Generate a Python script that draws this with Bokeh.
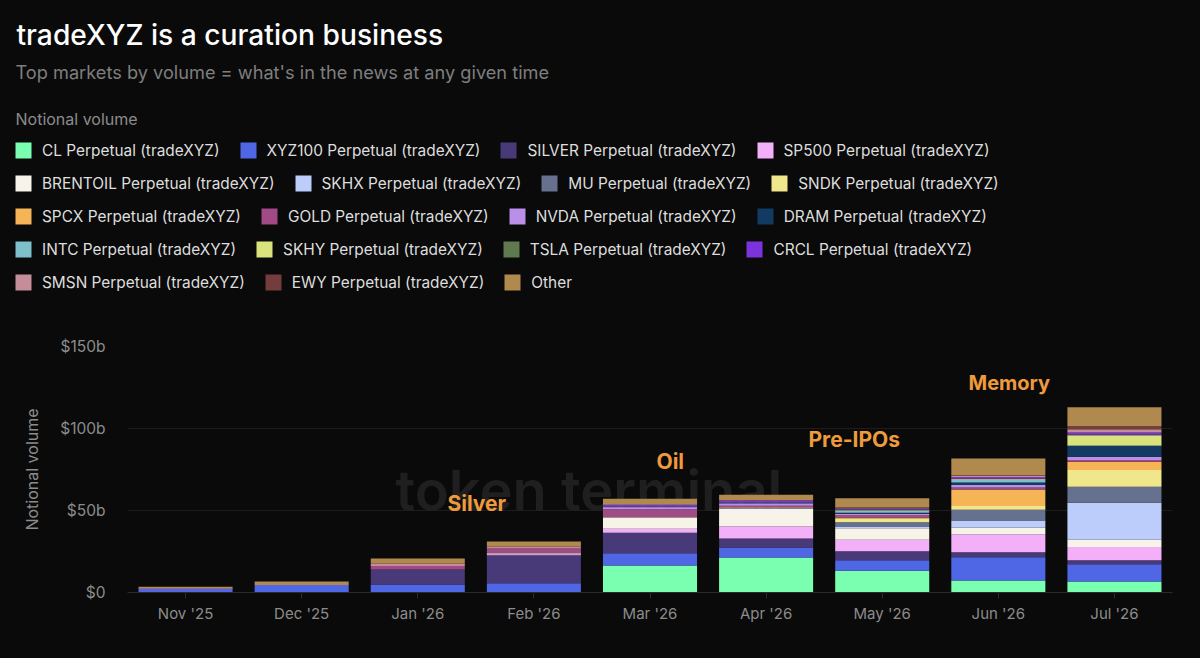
from bokeh.plotting import figure
from bokeh.models import (ColumnDataSource, FactorRange, Range1d, FixedTicker, Label, Legend, LegendItem)
from bokeh.core.properties import value
from bokeh.embed import file_html
from bokeh.resources import INLINE

TITLE = "tradeXYZ is a curation business"
SUBTITLE = "Top markets by volume = what's in the news at any given time"
LEGEND_TITLE = "Notional volume"
months = ["Nov '25", "Dec '25", "Jan '26", "Feb '26", "Mar '26", "Apr '26", "May '26", "Jun '26", "Jul '26"]

CL       = [0, 0, 0, 0, 16.5, 21.3, 13.2, 7.3, 6.7]
XYZ100   = [2.2, 4.5, 4.9, 5.7, 7.5, 6.1, 6.5, 14.2, 10.6]
SILVER   = [0.1, 0, 9.1, 17.0, 12.4, 5.5, 5.5, 3.0, 2.4]
SP500    = [0, 0, 0, 0.6, 2.5, 7.5, 6.9, 11.0, 8.1]
BRENTOIL = [0, 0, 0, 0.6, 6.8, 10.6, 7.1, 4.1, 4.3]
SKHX     = [0, 0, 0, 0, 0.1, 0.3, 0.8, 4.3, 22.6]
MU       = [0, 0, 0, 0, 0.1, 0.3, 2.8, 6.5, 9.8]
SNDK     = [0, 0, 0, 0, 0.1, 0.2, 2.4, 2.4, 10.2]
SPCX     = [0, 0, 0, 0, 0.1, 0.2, 0.6, 10.0, 5.1]
GOLD     = [0, 0, 2.2, 3.0, 4.7, 0.9, 1.4, 1.2, 1.0]
NVDA     = [0, 0, 0, 0, 1.2, 1.4, 0.8, 1.6, 2.0]
DRAM     = [0, 0, 0, 0, 0.05, 0.1, 0.6, 1.4, 6.5]
INTC     = [0, 0, 0, 0, 0.05, 0.1, 1.2, 1.8, 0.3]
SKHY     = [0, 0, 0, 0, 0.05, 0.1, 0.4, 0.4, 6.3]
TSLA     = [0, 0, 0, 0, 0.2, 0.2, 0.2, 0.2, 0.3]
CRCL     = [0, 0, 0, 0, 1.0, 1.2, 0.6, 1.0, 1.4]
SMSN     = [0.5, 0, 1.4, 1.1, 0.1, 0.2, 0.4, 0.6, 2.0]
EWY      = [0, 0, 0, 0, 0.1, 0.2, 0.4, 0.3, 1.8]
Other    = [0.7, 2.2, 3.2, 3.1, 3.6, 3.2, 5.7, 10.4, 11.6]

names = ["CL Perpetual (tradeXYZ)", "XYZ100 Perpetual (tradeXYZ)", "SILVER Perpetual (tradeXYZ)",
         "SP500 Perpetual (tradeXYZ)", "BRENTOIL Perpetual (tradeXYZ)", "SKHX Perpetual (tradeXYZ)",
         "MU Perpetual (tradeXYZ)", "SNDK Perpetual (tradeXYZ)", "SPCX Perpetual (tradeXYZ)",
         "GOLD Perpetual (tradeXYZ)", "NVDA Perpetual (tradeXYZ)", "DRAM Perpetual (tradeXYZ)",
         "INTC Perpetual (tradeXYZ)", "SKHY Perpetual (tradeXYZ)", "TSLA Perpetual (tradeXYZ)",
         "CRCL Perpetual (tradeXYZ)", "SMSN Perpetual (tradeXYZ)", "EWY Perpetual (tradeXYZ)", "Other"]
series = [CL, XYZ100, SILVER, SP500, BRENTOIL, SKHX, MU, SNDK, SPCX, GOLD, NVDA, DRAM, INTC, SKHY, TSLA, CRCL, SMSN, EWY, Other]
colors = ["#7AFFB0", "#4F67E5", "#483A78", "#F3B0F8", "#F7F3E8", "#BDCDFB", "#65718F", "#F0E68C", "#F5B556",
          "#A14A85", "#B98FE8", "#123A62", "#7DBFCB", "#DAE27C", "#5F7A4E", "#7B34DB", "#C58D9A", "#743C3C", "#B0894F"]
y_ticks = [0, 50, 100, 150]
y_labels = ["$0", "$50b", "$100b", "$150b"]

BG = "#0A0A0A"
FONT = "Inter"
W, H = 1200, 658
HEAD_H = 326
FL, FR, FT, FB = 127, 1172, 346, 592

head = figure(width=W, height=HEAD_H, output_backend="svg", toolbar_location=None,
              x_range=Range1d(0, W), y_range=Range1d(HEAD_H, 0),
              background_fill_color=BG, border_fill_color=BG, outline_line_color=None,
              min_border=0, x_axis_location=None, y_axis_location=None)
head.xgrid.visible = False
head.ygrid.visible = False

p = figure(width=W, height=H - HEAD_H, output_backend="svg", toolbar_location=None,
           x_range=FactorRange(factors=months, range_padding=0, factor_padding=0),
           y_range=Range1d(0, 150), background_fill_color=BG, border_fill_color=BG,
           outline_line_color=None,
           min_border_left=FL, min_border_right=W - FR,
           min_border_top=FT - HEAD_H, min_border_bottom=H - FB)

src = ColumnDataSource({"month": months, **{n: s for n, s in zip(names, series)}})
rs = p.vbar_stack(names, x="month", width=0.81, color=colors, line_color=None, source=src)


def htxt(s, x, y, size, color, font=FONT):
    head.add_layout(Label(x=x, y=HEAD_H - y, x_units="screen", y_units="screen", text=s,
                          text_font=font, text_font_size=f"{size}px", text_color=color,
                          text_baseline="middle", text_align="left"))


def ptxt(s, x, y, size, color, style="normal", baseline="middle", level="annotation", font=FONT):
    p.add_layout(Label(x=x - FL, y=FB - y, x_units="screen", y_units="screen", text=s,
                       text_font=font, text_font_size=f"{size}px", text_color=color,
                       text_font_style=style, text_baseline=baseline, text_align="left", level=level))


p.xgrid.visible = False
p.ygrid.ticker = FixedTicker(ticks=y_ticks)
p.ygrid.grid_line_color = "#1D1D1D"
p.ygrid.level = "underlay"

xa = p.xaxis[0]
xa.axis_line_color = "#2B2B2B"
xa.major_tick_line_color = "#2B2B2B"
xa.major_tick_out = 6
xa.major_tick_in = 0
xa.minor_tick_line_color = None
xa.major_label_text_color = "#8C8C8C"
xa.major_label_text_font = FONT
xa.major_label_text_font_size = "15px"
xa.major_label_standoff = 5

ya = p.yaxis[0]
ya.ticker = FixedTicker(ticks=y_ticks)
ya.major_label_overrides = {t: l for t, l in zip(y_ticks, y_labels)}
ya.axis_line_color = None
ya.major_tick_line_color = None
ya.minor_tick_line_color = None
ya.major_label_text_color = "#8C8C8C"
ya.major_label_text_font = FONT
ya.major_label_text_font_size = "15.5px"
ya.major_label_standoff = 16
ya.axis_label = LEGEND_TITLE
ya.axis_label_text_color = "#8C8C8C"
ya.axis_label_text_font = FONT
ya.axis_label_text_font_size = "16px"
ya.axis_label_text_font_style = "normal"
ya.axis_label_standoff = 15

ptxt("token terminal_", 395, 490, 56, "#1F1F1F", baseline="alphabetic", level="underlay", font="Inter SemiBold")
for s, x, y, size in [("Silver", 447, 503, 21), ("Oil", 656, 461, 21), ("Pre-IPOs", 808, 439, 21), ("Memory", 968, 382, 20)]:
    ptxt(s, x, y, size, "#EF9A3C", style="bold")

htxt(TITLE, 16, 34, 28.2, "#FFFFFF", font="Inter Medium")
htxt(SUBTITLE, 15, 71, 18.2, "#7E7E7E")
htxt(LEGEND_TITLE, 15, 118, 16, "#8C8C8C")

# legend swatch holders, outside the visible range of the header
PROXY_X = [-100]
PROXY_TOP = [0]
rows = [(0, 4, 148), (4, 8, 181), (8, 12, 214), (12, 16, 247), (16, 19, 280)]
for a, b, yc in rows:
    items = []
    for i in range(a, b):
        proxy = head.vbar(x=PROXY_X, top=PROXY_TOP, bottom=PROXY_TOP, width=1, fill_color=colors[i], line_color=None)
        items.append(LegendItem(label=value(names[i]), renderers=[proxy]))
    leg = Legend(items=items, orientation="horizontal", location=(13, HEAD_H - yc - 12),
                 margin=0, padding=0, spacing=18, glyph_width=20, glyph_height=20, label_standoff=9,
                 label_text_font=FONT, label_text_font_size="15.4px", label_text_color="#DEDEDE",
                 label_text_baseline="middle", label_height=20,
                 background_fill_alpha=0, border_line_color=None)
    head.add_layout(leg, "center")

html = file_html([head, p], INLINE).replace("<head>", f"<head><style>html,body{{background:{BG};}}</style>", 1)
open("out.html", "w").write(html)
